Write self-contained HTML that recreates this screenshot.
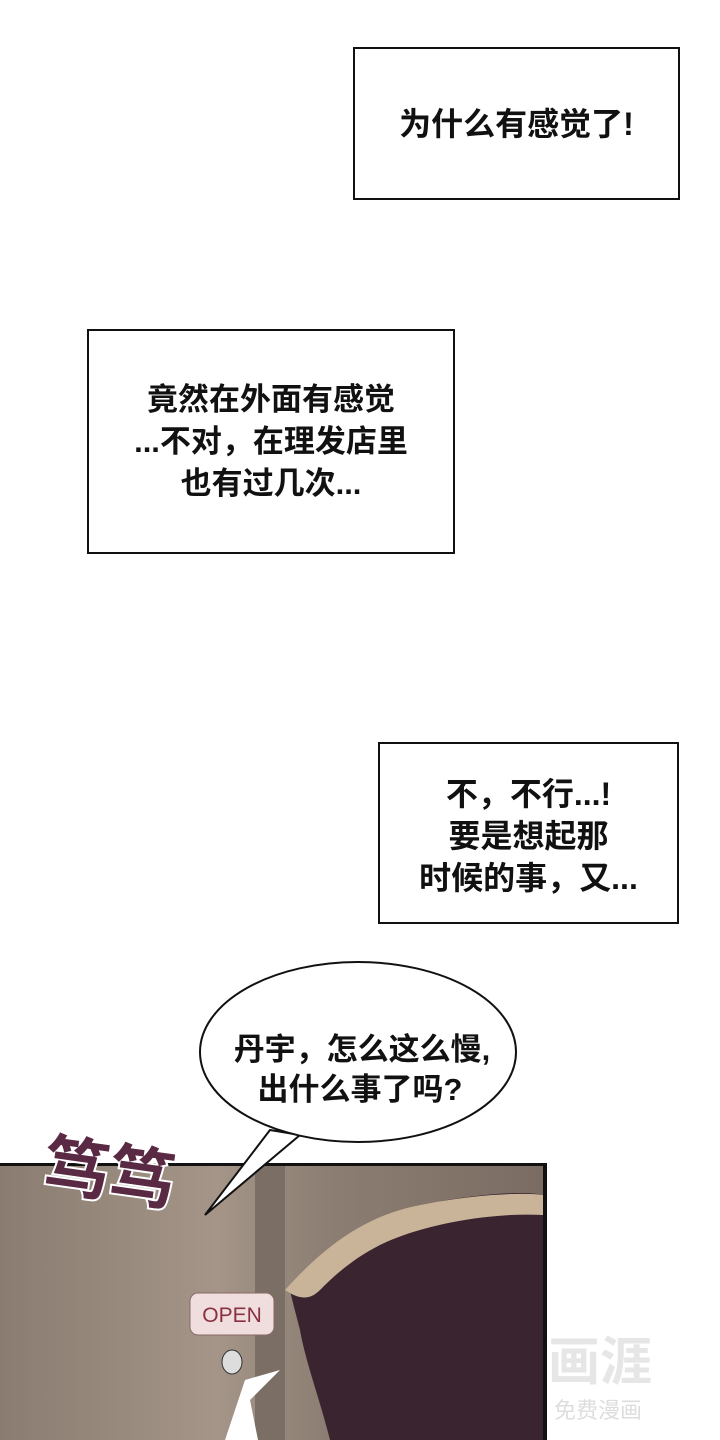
<!DOCTYPE html>
<html><head><meta charset="utf-8"><style>
body{margin:0;width:720px;height:1440px;background:#fff;position:relative;overflow:hidden;font-family:"Liberation Sans","Noto Sans CJK SC",sans-serif;}
.box{position:absolute;border:2px solid #111;background:#fff;box-sizing:border-box;display:flex;align-items:center;justify-content:center;text-align:center;font-weight:bold;font-size:32px;color:#111;line-height:42px;}
</style></head><body>
<div class="box" style="left:353px;top:47px;width:327px;height:153px;">为什么有感觉了!</div>
<div class="box" style="left:87px;top:329px;width:368px;height:225px;font-size:31px;">竟然在外面有感觉<br>...不对，在理发店里<br>也有过几次...</div>
<div class="box" style="left:378px;top:742px;width:301px;height:182px;line-height:42px;padding-top:6px;">不，不行...!<br>要是想起那<br>时候的事，又...</div>

<div style="position:absolute;left:0;top:1163px;width:547px;height:277px;background:linear-gradient(90deg,#8a7c70,#a49588 40%,#8c7e72 60%,#7a6c62);border-top:3px solid #111;border-right:4px solid #111;box-sizing:border-box;"></div>
<div style="position:absolute;left:255px;top:1166px;width:30px;height:274px;background:#7b6e64;"></div>
<svg style="position:absolute;left:0;top:0" width="720" height="1440">
<path d="M290 1290 C320 1250 370 1215 420 1205 C470 1195 520 1190 543 1195 L543 1440 L330 1440 C320 1400 305 1360 300 1330 C295 1310 292 1300 290 1290Z" fill="#3a2430"/>
<path d="M285 1290 C330 1240 370 1215 420 1205 C470 1195 520 1192 543 1195 L543 1215 C490 1212 420 1225 380 1245 C350 1260 330 1280 320 1290 C310 1300 300 1300 285 1290Z" fill="#c9b49a"/>
<path d="M245 1380 L280 1370 L250 1400 L258 1440 L225 1440 Z" fill="#fff"/>
<rect x="190" y="1293" width="84" height="42" rx="8" fill="#f0dede" stroke="#8a6a6a"/>
<text x="232" y="1322" text-anchor="middle" font-family="Liberation Sans" font-size="21" fill="#8a3040">OPEN</text>
<ellipse cx="232" cy="1362" rx="10" ry="12" fill="#ddd" stroke="#333"/>
<text x="42" y="1195" font-family="Noto Sans CJK SC" font-weight="bold" font-size="66" fill="#5a2a45" stroke="#fff" stroke-width="4" paint-order="stroke" transform="rotate(8 100 1180)">笃笃</text>
<path d="M270 1130 L205 1215 L300 1135 Z" fill="#fff" stroke="#111" stroke-width="2" stroke-linejoin="miter"/>
<ellipse cx="358" cy="1052" rx="158" ry="90" fill="#fff" stroke="#111" stroke-width="2"/>
<text x="362" y="1060" text-anchor="middle" font-family="Liberation Sans, Noto Sans CJK SC" font-weight="bold" font-size="31" fill="#111">丹宇，怎么这么慢,</text>
<text x="360" y="1100" text-anchor="middle" font-family="Liberation Sans, Noto Sans CJK SC" font-weight="bold" font-size="31" fill="#111">出什么事了吗?</text>
<text x="600" y="1380" text-anchor="middle" font-family="Noto Sans CJK SC" font-weight="bold" font-size="52" fill="#e6e6e6">画涯</text>
<text x="598" y="1418" text-anchor="middle" font-family="Noto Sans CJK SC" font-size="22" fill="#ddd">免费漫画</text>
</svg>
</body></html>
